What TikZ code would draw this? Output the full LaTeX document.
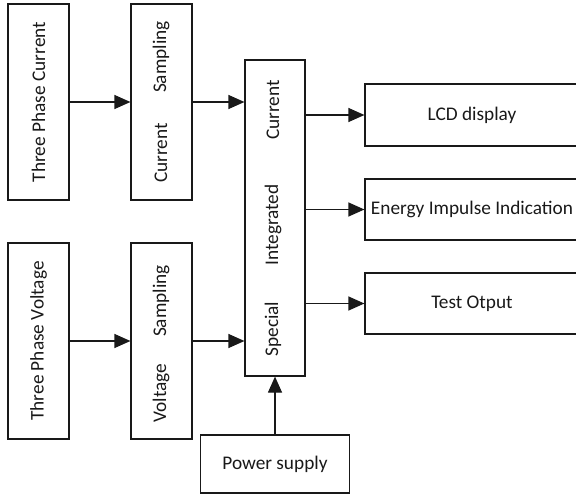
\documentclass[tikz,border=0pt]{standalone}
\usepackage{fontspec}
\setmainfont{Carlito}
\usetikzlibrary{arrows.meta,calc}
\tikzset{
  box/.style={draw=black!90, line width=1.2pt, inner sep=0pt},
  lbl/.style={font=\fontsize{19.3}{21}\selectfont, text=black!90, inner sep=0pt},
  vlbl/.style={lbl, rotate=90},
  arr/.style={draw=black!90, line width=1.2pt, -{Triangle[length=16pt,width=14pt]}}
}
\begin{document}
\begin{tikzpicture}[x=1pt,y=-1pt]
\useasboundingbox (0,0) rectangle (576,497);
% boxes
\node[box, minimum width=61pt, minimum height=196pt] (tpc) at (38.5,102) {};
\node[box, minimum width=61pt, minimum height=196pt] (cs) at (161.5,102) {};
\node[box, minimum width=61pt, minimum height=196pt] (tpv) at (38.5,341) {};
\node[box, minimum width=61pt, minimum height=196pt] (vs) at (161.5,341) {};
\node[box, minimum width=60pt, minimum height=316pt] (cen) at (275,218) {};
\node[box, minimum width=214pt, minimum height=62pt] (lcd) at (472,115) {};
\node[box, minimum width=214pt, minimum height=61pt] (eii) at (472,209.5) {};
\node[box, minimum width=214pt, minimum height=61pt] (tst) at (472,303.5) {};
\node[box, minimum width=149pt, minimum height=58pt] (ps) at (275,464) {};
% texts
\node[vlbl] (t1) at (tpc.center) {Three Phase Current};
\node[vlbl] (t2) at (161,57) {Sampling};
\node[vlbl] (t3) at (161,153) {Current};
\node[vlbl] (t4) at (tpv.center) {Three Phase Voltage};
\node[vlbl] (t5) at (161,301) {Sampling};
\node[vlbl] (t6) at (161,393) {Voltage};
\node[vlbl] (t7) at (273,110) {Current};
\node[vlbl] (t8) at (273,225) {Integrated};
\node[vlbl] (t9) at (273,329) {Special};
\node[lbl] (t10) at (lcd.center) {LCD display};
\node[lbl] (t11) at (eii.center) {Energy Impulse Indication};
\node[lbl] (t12) at (tst.center) {Test Otput};
\node[lbl] (t13) at (ps.center) {Power supply};
% connectors
\draw[arr] (tpc.east) -- (cs.west);
\draw[arr] (cs.east) -- (cs.east -| cen.west);
\draw[arr] (tpv.east) -- (vs.west);
\draw[arr] (vs.east) -- (vs.east -| cen.west);
\draw[arr] (lcd.west -| cen.east) -- (lcd.west);
\draw[arr] (eii.west -| cen.east) -- (eii.west);
\draw[arr] (tst.west -| cen.east) -- (tst.west);
\draw[arr] (ps.north) -- (cen.south);
\end{tikzpicture}
\end{document}
